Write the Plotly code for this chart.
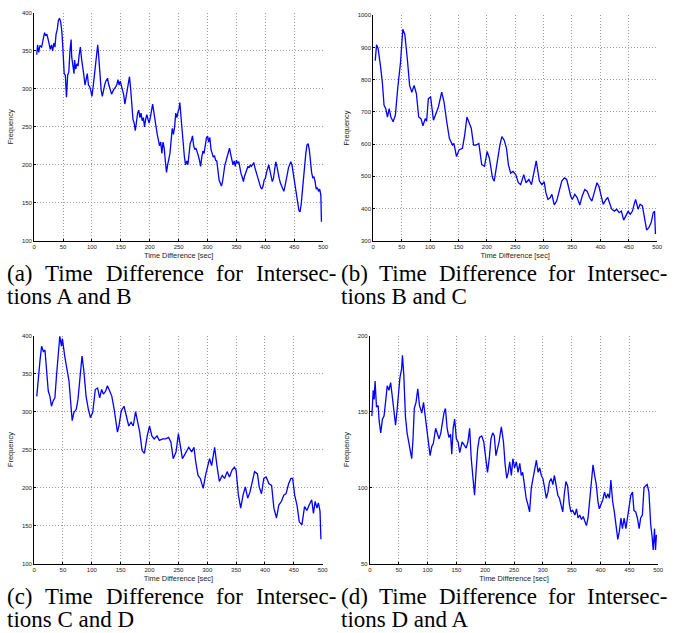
import plotly.graph_objects as go

# ---------------- data ----------------
a_x = [4.5, 6, 8, 10, 13, 16, 18, 20, 22, 24, 26, 28, 30, 32, 34, 36, 38, 40, 42, 44, 46, 48, 50, 52, 54, 56, 58, 60, 62, 64, 65, 67, 69, 70, 72, 74, 76, 78, 80, 82, 84, 86, 88, 90, 92, 94, 96, 98, 100, 102, 104, 106, 108, 110, 112, 114, 116, 118, 120, 122, 124, 127, 129, 131, 134, 137, 140, 143, 145, 147, 149, 152, 155, 157, 159, 161, 163, 165, 167, 169, 171, 173, 175, 177, 179, 181, 183, 185, 187, 189, 191, 193, 195, 197, 199, 201, 203, 205, 207, 209, 211, 213, 215, 217, 219, 221, 223, 225, 227, 229, 231, 233, 235, 237, 239, 241, 243, 245, 247, 249, 251, 252, 254, 256, 258, 260, 262, 264, 266, 268, 270, 272, 274, 276, 278, 280, 282, 284, 286, 288, 290, 292, 294, 296, 298, 300, 302, 304, 306, 308, 310, 312, 314, 316, 318, 320, 322, 324, 326, 328, 330, 332, 334, 336, 338, 340, 342, 344, 346, 348, 350, 352, 354, 356, 358, 360, 362, 364, 366, 368, 370, 372, 374, 376, 378, 380, 382, 384, 386, 388, 390, 392, 394, 396, 398, 400, 402, 404, 406, 408, 410, 412, 414, 416, 418, 420, 422, 424, 426, 428, 430, 432, 434, 436, 438, 440, 442, 444, 446, 448, 450, 452, 454, 456, 458, 460, 462, 464, 466, 468, 470, 472, 474, 476, 478, 480, 482, 484, 486, 488, 490, 492, 494, 496, 497]
a_y = [345, 358, 348, 357, 355, 366, 374, 370, 372, 366, 360, 352, 358, 350, 360, 355, 372, 378, 390, 393, 388, 375, 350, 320, 318, 289, 318, 322, 350, 365, 342, 332, 320, 338, 326, 333, 330, 345, 355, 340, 325, 318, 305, 315, 320, 305, 303, 298, 290, 302, 318, 330, 345, 358, 340, 315, 298, 290, 300, 305, 310, 314, 306, 300, 293, 298, 302, 305, 312, 305, 310, 300, 292, 280, 290, 300, 310, 316, 300, 282, 260, 255, 245, 256, 268, 272, 262, 268, 258, 262, 250, 260, 266, 260, 255, 262, 270, 280, 270, 262, 250, 240, 232, 225, 230, 215, 230, 222, 205, 190, 200, 206, 215, 232, 248, 240, 250, 268, 262, 270, 275, 282, 265, 240, 222, 210, 200, 205, 200, 220, 228, 232, 238, 225, 220, 222, 218, 212, 206, 198, 210, 218, 215, 225, 235, 238, 230, 236, 220, 215, 210, 212, 206, 205, 192, 180, 176, 172, 178, 192, 200, 205, 212, 218, 222, 214, 208, 200, 205, 198, 206, 202, 204, 194, 188, 184, 178, 185, 190, 194, 198, 196, 200, 198, 201, 203, 196, 190, 185, 180, 176, 170, 168, 172, 180, 182, 190, 195, 200, 192, 184, 178, 182, 195, 204, 198, 188, 182, 176, 172, 168, 165, 172, 180, 190, 196, 200, 204, 200, 190, 178, 165, 155, 145, 140, 138, 148, 165, 185, 200, 215, 226, 228, 220, 200, 190, 183, 184, 178, 168, 170, 165, 168, 160, 125]

b_x = [3.5, 5.8, 8.7, 11.6, 13, 16, 19, 22, 25, 28, 31, 35, 39, 43, 48, 52, 55.6, 60, 64, 68, 72, 76, 80, 84, 87.5, 91.5, 94, 97, 101, 106, 110.7, 114.7, 120.5, 124.6, 129, 134, 139.6, 142, 146.6, 151, 157, 161, 165, 168.6, 172.6, 176.7, 181, 186, 191, 196, 200.5, 204.5, 210, 213, 218, 223, 226.5, 230.6, 234.6, 238, 242, 246, 250.9, 255.5, 259.6, 265, 269, 274, 278.7, 282.7, 287, 292.6, 297, 301, 304, 307.6, 311.7, 314.6, 318.7, 323, 327, 332, 336.6, 340.7, 343.6, 347.6, 350.5, 355, 359, 363.8, 368, 372.5, 376.6, 381, 385, 390, 394, 397.4, 401.5, 405, 410, 413, 416, 420, 424.7, 428.7, 433, 437, 441, 445, 449, 452.5, 456.5, 459.4, 462, 466.4, 470, 474, 478, 481.5, 485.5, 489.6, 493, 495.4, 497]
b_y = [859, 908, 895, 843, 838, 792, 720, 710, 684, 710, 684, 669, 690, 772, 853, 956, 940, 864, 782, 761, 782, 756, 684, 679, 657, 679, 671, 741, 746, 674, 695, 715, 761, 731, 674, 618, 597, 602, 561, 582, 587, 628, 684, 664, 649, 597, 597, 602, 536, 531, 577, 556, 495, 485, 546, 597, 623, 612, 587, 536, 510, 515, 505, 480, 474, 505, 480, 490, 474, 515, 548, 485, 474, 483, 449, 428, 434, 444, 411, 423, 454, 485, 495, 490, 469, 439, 428, 444, 434, 411, 439, 459, 454, 434, 423, 454, 480, 469, 439, 413, 428, 434, 418, 398, 392, 398, 387, 392, 364, 377, 392, 382, 392, 413, 428, 398, 413, 408, 362, 333, 341, 357, 387, 392, 321]

c_x = [4.6, 7.4, 10.3, 13, 16, 18.8, 21.7, 24.5, 27.4, 30, 33, 36, 38.8, 41.7, 44.5, 47.4, 49, 53, 57, 60.5, 63.4, 66, 69, 73, 76, 79, 83, 86, 90, 94, 97.6, 101.6, 106, 110, 113.6, 117, 120, 124, 127, 131, 134.7, 138.7, 141.6, 144.4, 147, 151, 155.8, 160.4, 164, 168, 171.8, 175.8, 178.6, 183, 187, 191, 196, 200, 204, 208, 213, 217, 223, 228, 233, 237, 241, 246, 250, 253, 257, 260, 264, 268, 273, 277, 280, 284, 288, 293, 297, 300, 304, 307.6, 312.8, 316.8, 321, 326, 330, 334.5, 338.5, 343, 347, 350, 354, 358, 362, 366, 370, 374, 378, 382, 387, 390, 394, 398, 402, 407, 411.5, 415.5, 420, 424, 428.6, 432.6, 436.6, 441, 445, 448, 451.5, 455.5, 459.5, 464, 468.6, 472.6, 476.6, 481, 484, 487, 490, 492.6, 495.4, 497]
c_y = [320, 347, 368, 386, 379, 381, 355, 327, 320, 307, 314, 318, 347, 381, 399, 386, 396, 373, 357, 340, 312, 288, 299, 303, 316, 342, 373, 355, 320, 303, 292, 299, 329, 331, 318, 329, 323, 327, 334, 327, 320, 303, 290, 273, 281, 301, 307, 294, 281, 286, 281, 300, 290, 273, 249, 245, 268, 281, 268, 264, 268, 262, 264, 264, 266, 260, 238, 247, 271, 255, 238, 242, 247, 253, 247, 253, 234, 216, 212, 199, 216, 225, 238, 229, 253, 229, 208, 216, 212, 221, 214, 223, 227, 223, 190, 173, 190, 201, 186, 194, 208, 221, 218, 201, 192, 212, 214, 205, 203, 173, 160, 177, 182, 190, 192, 205, 212, 212, 190, 177, 155, 151, 175, 170, 177, 184, 166, 182, 173, 180, 169, 132]

d_x = [3.4, 5.7, 7.4, 9, 11.4, 14.3, 16, 18.8, 21.7, 24.5, 27.4, 30, 33, 36, 38.8, 41.7, 44.5, 47.4, 49, 52, 55, 56.5, 58.8, 61.6, 64.5, 67.4, 70, 72.5, 74.8, 77, 80, 83, 86, 90, 93, 96, 98.7, 101.6, 104.4, 107.3, 110, 114, 117, 120, 123, 126, 128.4, 131, 134, 137, 140, 142, 144.4, 147, 150, 153, 155.8, 160, 163, 167, 170, 173, 175.8, 178.6, 181.5, 184, 187, 190, 194, 197.5, 201.5, 204, 207, 210, 213, 215.8, 218.6, 221.5, 224, 228, 231.7, 234.6, 237.4, 240, 242.5, 245.4, 248, 251, 254, 257, 260, 262.5, 265, 268, 271, 274, 277, 280, 282.5, 285, 288.8, 291.7, 294.5, 297.4, 300, 303, 306, 308.8, 311.6, 314.5, 317.4, 320, 323, 326, 328.8, 331.6, 334.5, 337, 340, 343, 346, 348.7, 351.6, 355.6, 358.4, 361, 364, 367, 370, 372.7, 375.6, 378.4, 381, 384, 387, 389.8, 392.7, 395.5, 398, 401, 404, 407, 410, 412.7, 415.5, 418, 421, 424, 427, 430, 432.6, 435.5, 438, 441, 444, 447, 449.8, 452.6, 455.5, 458, 461, 464, 467, 469.7, 472.6, 475.5, 478, 481, 484, 487, 489.7, 491.4, 493.7, 495.4, 497]
d_y = [147, 164, 158, 170, 153, 154, 144, 136, 145, 147, 157, 167, 164, 169, 160, 152, 141, 152, 159, 172, 178, 187, 174, 147, 136, 130, 123, 119, 132, 152, 156, 165, 154, 149, 156, 147, 139, 130, 121, 127, 129, 139, 135, 132, 136, 145, 149, 152, 139, 133, 135, 122, 139, 145, 132, 130, 123, 130, 128, 126, 130, 139, 119, 104, 95, 110, 126, 133, 134, 130, 117, 110, 119, 132, 136, 134, 121, 126, 130, 140, 130, 115, 106, 110, 117, 108, 119, 113, 117, 110, 116, 108, 110, 102, 93, 89, 84, 100, 106, 110, 118, 110, 113, 108, 106, 100, 93, 97, 104, 106, 102, 108, 102, 95, 93, 89, 84, 95, 104, 101, 89, 84, 85, 82, 86, 80, 82, 79, 81, 78, 75, 80, 91, 106, 115, 108, 102, 91, 86, 89, 92, 97, 93, 96, 93, 105, 91, 84, 76, 66, 71, 80, 73, 80, 73, 80, 89, 95, 97, 85, 84, 80, 73, 80, 82, 100, 101, 102, 97, 76, 67, 59, 73, 59, 69]

x_ticks = [0, 50, 100, 150, 200, 250, 300, 350, 400, 450, 500]
a_yticks = [100, 150, 200, 250, 300, 350, 400]
b_yticks = [300, 400, 500, 600, 700, 800, 900, 1000]
c_yticks = [100, 150, 200, 250, 300, 350, 400]
d_yticks = [50, 100, 150, 200]

x_title = "Time Difference [sec]"
y_title = "Frequency"
captions = [
    (["(a)", "Time", "Difference", "for", "Intersec-"], "tions A and B"),
    (["(b)", "Time", "Difference", "for", "Intersec-"], "tions B and C"),
    (["(c)", "Time", "Difference", "for", "Intersec-"], "tions C and D"),
    (["(d)", "Time", "Difference", "for", "Intersec-"], "tions D and A"),
]

# ---------------- layout helpers ----------------
W, H = 677, 633
def fx(p):
    return p / W
def fy(p):
    return 1 - p / H

# plot boxes in pixels: (left, right, top, bottom)
boxes = [
    (32.5, 325.0, 10.0, 240.0),
    (375.7, 663.0, 12.3, 240.0),
    (32.5, 324.5, 335.7, 566.0),
    (372.3, 664.0, 335.7, 566.0),
]
series = [(a_x, a_y), (b_x, b_y), (c_x, c_y), (d_x, d_y)]
yticks = [a_yticks, b_yticks, c_yticks, d_yticks]

fig = go.Figure()
tick_font = dict(family="Liberation Sans, Arial, sans-serif", size=6, color="#222")
title_font = dict(family="Liberation Sans, Arial, sans-serif", size=7.4, color="#222")

for i, ((xs, ys), box, yt) in enumerate(zip(series, boxes, yticks)):
    n = "" if i == 0 else str(i + 1)
    fig.add_trace(go.Scatter(x=xs, y=ys, mode="lines",
                             line=dict(color="#0000ff", width=1.3),
                             xaxis="x" + n, yaxis="y" + n, showlegend=False))
    l, r, t, b = box
    common = dict(showline=True, linecolor="black", linewidth=1,
                  showgrid=True, gridcolor="#9a9a9a", griddash="1px,2px", gridwidth=1,
                  zeroline=False, ticks="inside", ticklen=2, tickcolor="black",
                  tickfont=tick_font)
    fig.layout["xaxis" + n] = dict(domain=[fx(l), fx(r)], range=[0, 500],
                                   tickvals=x_ticks, anchor="y" + n,
                                   title=dict(text=x_title, font=title_font, standoff=3),
                                   **common)
    fig.layout["yaxis" + n] = dict(domain=[fy(b), fy(t)], range=[yt[0], yt[-1]],
                                   tickvals=yt, anchor="x" + n,
                                   title=dict(text=y_title, font=title_font, standoff=7),
                                   **common)

# ---------------- captions (justified first line) ----------------
TNR = {" ": 250, "(": 333, ")": 333, "a": 444, "b": 500, "c": 444, "d": 500,
       "e": 444, "f": 333, "i": 278, "m": 778, "n": 500, "o": 500, "r": 333,
       "s": 389, "t": 278, "T": 611, "D": 722, "I": 333, "-": 333, "A": 722,
       "B": 667, "C": 667}
FS = 23
def wwidth(w):
    return sum(TNR.get(ch, 500) for ch in w) / 1000 * FS

cap_font = dict(family="Liberation Serif, Times New Roman, serif", size=FS, color="black")
cap_pos = [(5, 337, 281), (343, 672, 281), (5, 337, 607), (343, 672, 607)]
for (words, line2), (x0, x1, base) in zip(captions, cap_pos):
    total = sum(wwidth(w) for w in words)
    gap = (x1 - x0 - total) / (len(words) - 1)
    x = x0
    for w in words:
        fig.add_annotation(x=fx(x - 1), y=fy(base + 6), xref="paper", yref="paper",
                           text=w, showarrow=False, xanchor="left", yanchor="bottom",
                           font=cap_font, borderpad=0)
        x += wwidth(w) + gap
    fig.add_annotation(x=fx(x0 - 1), y=fy(base + 23 + 6), xref="paper", yref="paper",
                       text=line2, showarrow=False, xanchor="left", yanchor="bottom",
                       font=cap_font, borderpad=0)

fig.update_layout(width=W, height=H, margin=dict(l=0, r=0, t=0, b=0),
                  paper_bgcolor="white", plot_bgcolor="white")
fig.write_html("out.html", config={"displayModeBar": False},
               post_script="document.body.style.margin='0';document.body.style.padding='0';")
